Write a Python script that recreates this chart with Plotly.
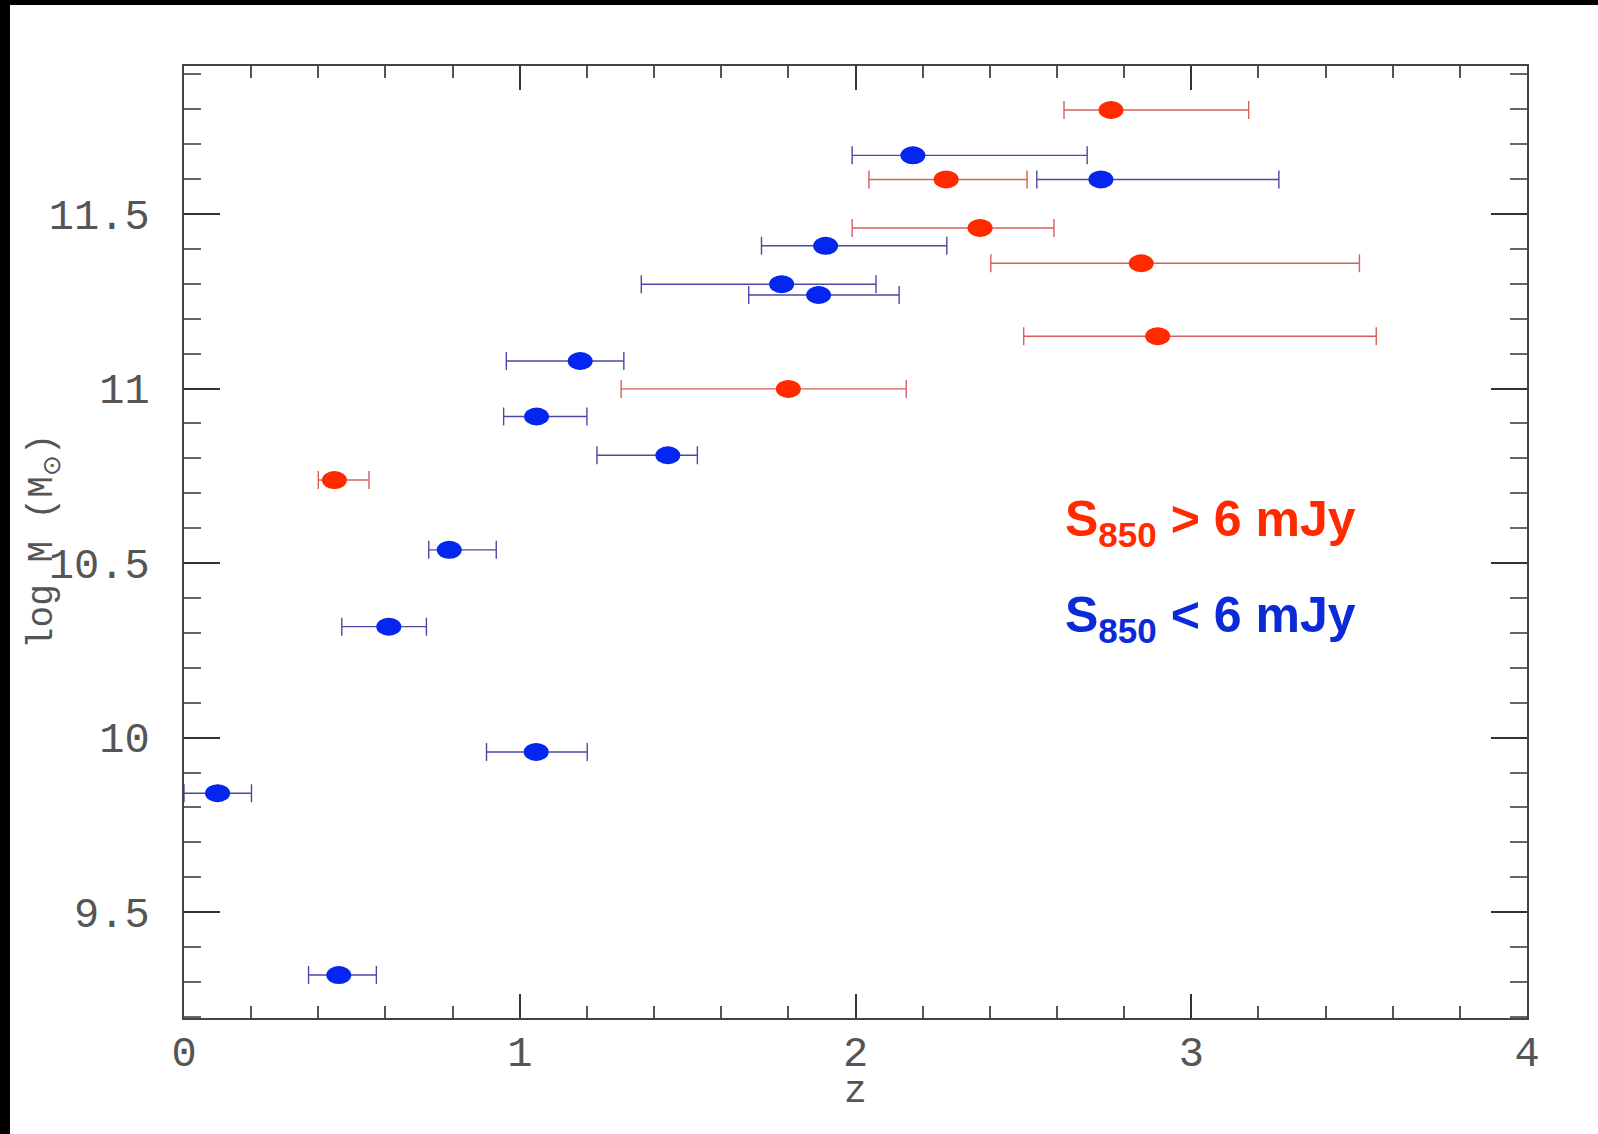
import plotly.graph_objects as go

# ---- data ----
# S850 > 6 mJy (red)
red_z = [2.761, 2.270, 2.371, 2.851, 2.900, 1.800, 0.448]
red_zlo = [2.621, 2.040, 1.990, 2.403, 2.501, 1.302, 0.400]
red_zhi = [3.171, 2.511, 2.591, 3.501, 3.551, 2.151, 0.551]
red_logm = [11.798, 11.599, 11.460, 11.359, 11.150, 10.999, 10.738]

# S850 < 6 mJy (blue)
blue_z = [2.171, 2.731, 1.911, 1.780, 1.890, 1.180, 1.050, 1.441, 0.790, 0.610, 1.049, 0.100, 0.461]
blue_zlo = [1.990, 2.540, 1.720, 1.362, 1.682, 0.960, 0.952, 1.230, 0.729, 0.470, 0.901, 0.000, 0.371]
blue_zhi = [2.690, 3.261, 2.272, 2.061, 2.130, 1.310, 1.200, 1.529, 0.930, 0.722, 1.201, 0.201, 0.573]
blue_logm = [11.668, 11.599, 11.409, 11.299, 11.268, 11.079, 10.920, 10.809, 10.538, 10.318, 9.959, 9.841, 9.320]

x_ticks = [0, 1, 2, 3, 4]
x_ticklabels = ["0", "1", "2", "3", "4"]
y_ticks = [9.5, 10, 10.5, 11, 11.5]
y_ticklabels = ["9.5", "10", "10.5", "11", "11.5"]

RED = "#ff2a00"
BLUE = "#0526ee"
RED_ERR = "#d8605c"
BLUE_ERR = "#4a4aa6"

W, H = 1598, 1134
ML, MR, MT, MB = 184, 71, 66, 116
PW, PH = W - ML - MR, H - MT - MB

X_RANGE = [0, 4]
Y_RANGE = [9.197, 11.924]

# ellipse half-sizes in data units (25 x 18 px markers)
DZ = 12.5 / (PW / (X_RANGE[1] - X_RANGE[0]))
DY = 9.0 / (PH / (Y_RANGE[1] - Y_RANGE[0]))

fig = go.Figure()


def add_series(z, zlo, zhi, logm, color, ecolor, name):
    fig.add_trace(go.Scatter(
        x=z, y=logm, mode="markers", name=name,
        marker=dict(size=17, color=color, line=dict(width=0)),
        error_x=dict(type="data", symmetric=False,
                     array=[h - c for h, c in zip(zhi, z)],
                     arrayminus=[c - l for c, l in zip(z, zlo)],
                     color=ecolor, thickness=1.4, width=9),
        showlegend=False,
    ))
    for zc, yc in zip(z, logm):
        fig.add_shape(type="circle", xref="x", yref="y",
                      x0=zc - DZ, x1=zc + DZ, y0=yc - DY, y1=yc + DY,
                      fillcolor=color, line=dict(width=0), layer="above")


add_series(red_z, red_zlo, red_zhi, red_logm, RED, RED_ERR, "S850 > 6 mJy")
add_series(blue_z, blue_zlo, blue_zhi, blue_logm, BLUE, BLUE_ERR, "S850 < 6 mJy")

tickfont = dict(family="Liberation Mono", size=42, color="#555555")

fig.update_xaxes(
    range=X_RANGE, tickvals=x_ticks, ticktext=x_ticklabels,
    showgrid=False, zeroline=False,
    showline=True, linecolor="#444", linewidth=2, mirror="allticks",
    ticks="inside", ticklen=24, tickwidth=1.5, tickcolor="#333",
    minor=dict(dtick=0.2, tick0=0, ticks="inside", ticklen=12, tickwidth=1.5, tickcolor="#555"),
    tickfont=tickfont, ticklabelstandoff=-4,
)
fig.update_yaxes(
    range=Y_RANGE, tickvals=y_ticks, ticktext=y_ticklabels,
    showgrid=False, zeroline=False,
    showline=True, linecolor="#444", linewidth=2, mirror="allticks",
    ticks="inside", ticklen=36, tickwidth=1.5, tickcolor="#333",
    minor=dict(dtick=0.1, tick0=0, ticks="inside", ticklen=17, tickwidth=1.5, tickcolor="#666"),
    tickfont=tickfont, ticklabelstandoff=24,
)

annotations = [
    dict(text="z", xref="paper", yref="paper", x=0.5, y=-(1068 - (H - MB)) / PH,
         xanchor="center", yanchor="top", showarrow=False,
         font=dict(family="Liberation Mono", size=38, color="#555555")),
    dict(text="log M (M<sub>⊙</sub>)", xref="paper", yref="paper",
         x=-(ML - 45) / PW, y=0.5, textangle=-90,
         xanchor="center", yanchor="middle", showarrow=False,
         font=dict(family="Liberation Mono", size=36, color="#555555")),
    dict(text="<b>S<sub>850</sub> &gt; 6 mJy</b>", xref="x", yref="y",
         x=2.618, y=10.615, xanchor="left", yanchor="middle", showarrow=False,
         font=dict(family="Liberation Sans", size=50, color="#ff2a00")),
    dict(text="<b>S<sub>850</sub> &lt; 6 mJy</b>", xref="x", yref="y",
         x=2.618, y=10.34, xanchor="left", yanchor="middle", showarrow=False,
         font=dict(family="Liberation Sans", size=50, color="#0b2bd8")),
]

# black frame strips at the left and top edges of the picture
frame_shapes = [
    dict(type="rect", xref="paper", yref="paper",
         x0=-ML / PW, x1=-(ML - 10) / PW, y0=-MB / PH - 0.01, y1=1 + MT / PH + 0.01,
         fillcolor="black", line=dict(width=0), layer="above"),
    dict(type="rect", xref="paper", yref="paper",
         x0=-ML / PW - 0.01, x1=1 + MR / PW + 0.01, y0=1 + (MT - 5) / PH, y1=1 + MT / PH + 0.01,
         fillcolor="black", line=dict(width=0), layer="above"),
]
for s in frame_shapes:
    fig.add_shape(**s)

fig.update_layout(
    width=W, height=H,
    margin=dict(l=ML, r=MR, t=MT, b=MB, autoexpand=False),
    paper_bgcolor="white", plot_bgcolor="white",
    annotations=annotations,
    showlegend=False,
)

fig.write_html("out.html")
